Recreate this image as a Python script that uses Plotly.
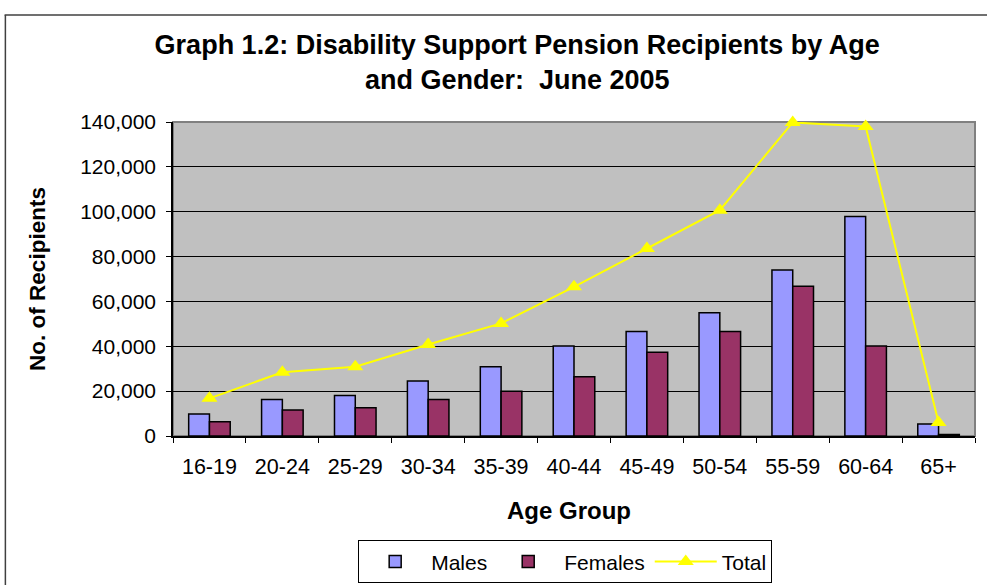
import plotly.graph_objects as go

age_groups = ["16-19", "20-24", "25-29", "30-34", "35-39", "40-44",
              "45-49", "50-54", "55-59", "60-64", "65+"]
males = [9800, 16300, 18100, 24500, 30900, 40100, 46600, 54900, 74000, 97900, 5300]
females = [6300, 11600, 12600, 16300, 20000, 26400, 37300, 46600, 66800, 40100, 700]
total = [16800, 28400, 30900, 40800, 50200, 66500, 83600, 100700, 139800, 138000, 6000]

FONT = "Liberation Sans, Arial, sans-serif"

fig = go.Figure()
fig.add_trace(go.Bar(name="Males", x=age_groups, y=males,
                     marker=dict(color="#9999FF", line=dict(color="black", width=1.5))))
fig.add_trace(go.Bar(name="Females", x=age_groups, y=females,
                     marker=dict(color="#993366", line=dict(color="black", width=1.5))))
fig.add_trace(go.Scatter(name="Total", x=age_groups, y=total, mode="lines+markers",
                         line=dict(color="#FFFF00", width=2),
                         marker=dict(symbol="triangle-up", size=14, color="#FFFF00"),
                         cliponaxis=False))

fig.update_layout(
    width=987, height=585,
    margin=dict(l=173, r=12, t=122, b=149, autoexpand=False),
    paper_bgcolor="white", plot_bgcolor="#C0C0C0",
    font=dict(family=FONT, color="black", size=21),
    barmode="group", bargap=0.43, bargroupgap=0,
    title=dict(text="<b>Graph 1.2: Disability Support Pension Recipients by Age<br>and Gender:  June 2005</b>",
               x=0.524, xanchor="center", y=0.908, yanchor="middle",
               font=dict(family=FONT, size=27, color="black")),
    xaxis=dict(range=[-0.5, len(age_groups) - 0.5],
               showline=True, linecolor="black", linewidth=1.5,
               ticks="outside", ticklen=5, tickcolor="black", tickson="boundaries",
               ticklabelstandoff=10, tickfont=dict(size=21.5),
               showgrid=False),
    yaxis=dict(title=dict(text="<b>No. of Recipients</b>", font=dict(size=22.5), standoff=28),
               range=[0, 140000], dtick=20000, tickformat=",",
               showline=True, linecolor="black", linewidth=1.5,
               ticks="outside", ticklen=5, tickcolor="black", ticklabelstandoff=6,
               showgrid=True, gridcolor="black", gridwidth=1, zeroline=False),
    legend=dict(orientation="h", x=0.489, xanchor="center", y=-0.401, yanchor="middle",
                bordercolor="black", borderwidth=1, bgcolor="white",
                font=dict(size=21), itemwidth=62, tracegroupgap=0),
    annotations=[
        dict(text="<b>Age Group</b>", xref="paper", yref="paper", x=0.494, y=-0.2357,
             xanchor="center", yanchor="middle", showarrow=False,
             font=dict(family=FONT, size=24, color="black")),
    ],
    shapes=[
        dict(type="rect", xref="paper", yref="paper", x0=0, x1=1, y0=0, y1=1,
             line=dict(color="#808080", width=2), layer="below"),
        dict(type="line", xref="paper", yref="paper", x0=-0.21, x1=1.05, y0=1.341, y1=1.341,
             line=dict(color="#404040", width=1.5)),
        dict(type="line", xref="paper", yref="paper", x0=-0.209, x1=-0.209, y0=1.341, y1=-0.5,
             line=dict(color="#404040", width=1.5)),
    ],
)

fig.write_html("out.html", config={"displayModeBar": False},
               post_script="document.body.style.margin='0';")
